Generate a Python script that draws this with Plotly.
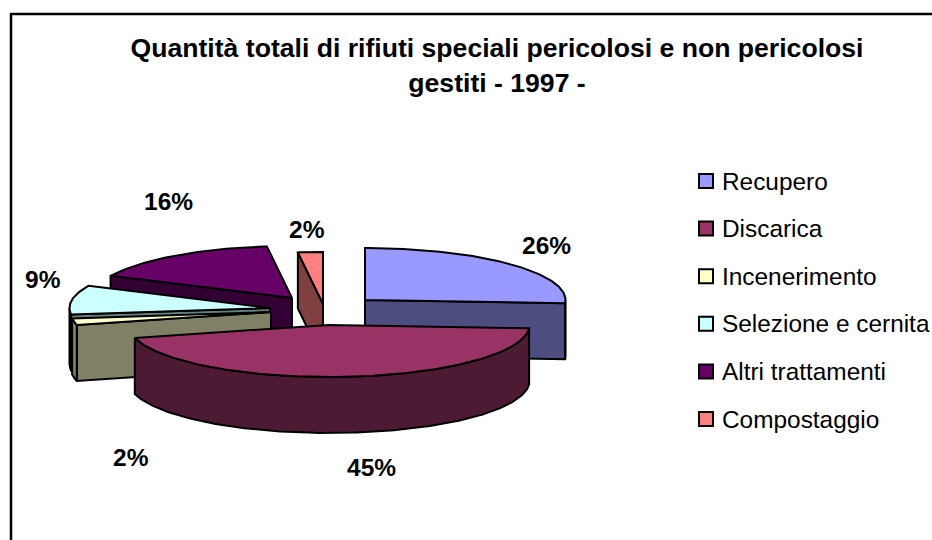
import math
import plotly.graph_objects as go

categories = ["Recupero", "Discarica", "Incenerimento", "Selezione e cernita", "Altri trattamenti", "Compostaggio"]
values = [26, 45, 2, 9, 16, 2]
top_colors = ["#9999FF", "#993366", "#FFFFCC", "#CCFFFF", "#660066", "#FF8080"]
side_colors = ["#4D4D80", "#4D1A33", "#808066", "#668080", "#330033", "#804040"]
title_text = "Quantità totali di rifiuti speciali pericolosi e non pericolosi<br>gestiti - 1997 -"

# layout of the exploded pie, in canvas pixels
RX, RY, DEPTH = 200.5, 52, 56
centers = [(365, 300), (329, 325), (271, 312), (270, 308), (292, 298), (323, 304)]
label_pos = [(546, 245), (371, 467), (131, 457), (43, 279), (168, 201), (307, 229)]
draw_order = [4, 5, 0, 3, 2, 1]
KEY_X, KEY_TEXT_X, KEY_Y0, KEY_STEP = 706, 721, 181, 47.6

total = sum(values)
starts = [sum(values[:i]) / total * 360 for i in range(len(values))]
ends = [sum(values[:i + 1]) / total * 360 for i in range(len(values))]


def rim(i, angle):
    cx, cy = centers[i]
    a = math.radians(angle)
    return cx + RX * math.sin(a), cy - RY * math.cos(a)


def arc(i, a0, a1):
    n = max(2, int(abs(a1 - a0)) + 1)
    return [rim(i, a0 + (a1 - a0) * k / n) for k in range(n + 1)]


def poly(pts, fill):
    xs = [p[0] for p in pts] + [pts[0][0]]
    ys = [p[1] for p in pts] + [pts[0][1]]
    return go.Scatter(x=xs, y=ys, mode="lines", fill="toself", fillcolor=fill,
                      line=dict(color="black", width=2), showlegend=False, hoverinfo="skip")


fig = go.Figure()

for i in draw_order:
    s, e = starts[i], ends[i]
    apex = centers[i]
    drop = lambda p: (p[0], p[1] + DEPTH)
    # cut face that looks towards the viewer
    if i != 1:
        p = rim(i, e) if i == 0 else rim(i, s)
        fig.add_trace(poly([apex, p, drop(p), drop(apex)], side_colors[i]))
    # outer wall of the part of the rim facing the viewer
    a0, a1 = max(s, 90), min(e, 270)
    if a1 > a0:
        a = arc(i, a0, a1)
        fig.add_trace(poly(a + [drop(p) for p in reversed(a)], side_colors[i]))
    # top face
    fig.add_trace(poly([apex] + arc(i, s, e), top_colors[i]))

# key (swatch + name); placed by hand because the native legend would push the plot area
for k, (name, col) in enumerate(zip(categories, top_colors)):
    fig.add_trace(go.Scatter(x=[KEY_X], y=[KEY_Y0 + k * KEY_STEP], mode="markers", name=name, showlegend=False,
                             marker=dict(symbol="square", size=14, color=col,
                                         line=dict(color="black", width=2))))

annotations = [dict(x=px, y=py, xref="x", yref="y", text=f"<b>{v}%</b>", showarrow=False,
                    font=dict(family="Liberation Sans", size=24.5, color="black"))
               for v, (px, py) in zip(values, label_pos)]
annotations += [dict(x=KEY_TEXT_X, y=KEY_Y0 + k * KEY_STEP, xref="x", yref="y", text=name, showarrow=False,
                     xanchor="left", xshift=-1,
                     font=dict(family="Liberation Sans", size=24.4, color="black"))
                for k, name in enumerate(categories)]

fig.update_layout(
    width=932, height=540, margin=dict(l=0, r=0, t=0, b=0),
    paper_bgcolor="white", plot_bgcolor="white", showlegend=False,
    title=dict(text="<b>" + title_text + "</b>", x=497 / 932, xanchor="center", y=1 - 57 / 540, yanchor="middle",
               font=dict(family="Liberation Sans", size=26.6, color="black")),
    xaxis=dict(range=[0, 932], visible=False, fixedrange=True),
    yaxis=dict(range=[540, 0], visible=False, fixedrange=True),
    annotations=annotations,
    shapes=[dict(type="rect", xref="x", yref="y", x0=11, y0=14, x1=960, y1=560,
                 line=dict(color="black", width=2.5), layer="below")],
)
fig.write_html("out.html", config=dict(displayModeBar=False),
               post_script="document.body.style.margin='0';window.dispatchEvent(new Event('resize'));")
